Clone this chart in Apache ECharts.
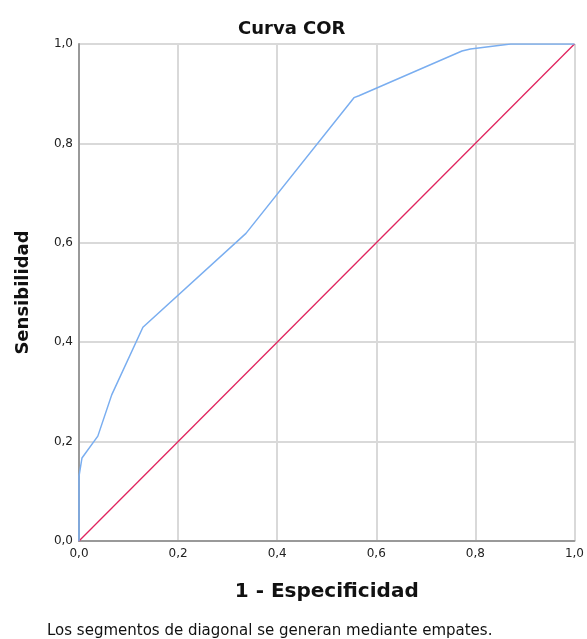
<!DOCTYPE html>
<html>
<head>
<meta charset="utf-8">
<script src="https://cdn.jsdelivr.net/npm/echarts@6/dist/echarts.min.js"></script>
<style>
  html, body { margin: 0; padding: 0; background: #fff; }
  #chart { width: 587px; height: 639px; }
</style>
</head>
<body>
<div id="chart"></div>
<script>
// ROC curve points
const fpr = [0.0, 0.0, 0.0, 0.006, 0.038, 0.066, 0.129, 0.337, 0.555, 0.565, 0.773, 0.790, 0.871, 1.0];
const tpr = [0.0, 0.11, 0.13, 0.167, 0.211, 0.294, 0.430, 0.619, 0.892, 0.896, 0.986, 0.990, 1.0, 1.0];
// reference diagonal
const diagX = [0.0, 1.0];
const diagY = [0.0, 1.0];
const ticks = ['0,0', '0,2', '0,4', '0,6', '0,8', '1,0'];

const chart = echarts.init(document.getElementById('chart'));

const fmt = v => ticks[Math.round(v / 0.2)];
const labelFont = { fontFamily: 'DejaVu Sans', fontSize: 12, color: '#222' };

const option = {
  animation: false,
  backgroundColor: '#fff',
  title: {
    text: 'Curva COR',
    left: 233,
    top: 15,
    textStyle: { fontFamily: 'DejaVu Sans', fontSize: 18, fontWeight: 'bold', color: '#111' }
  },
  graphic: [{
    type: 'text',
    left: 47,
    top: 624,
    style: {
      text: 'Los segmentos de diagonal se generan mediante empates.',
      font: '15px "DejaVu Sans"',
      fill: '#111'
    }
  }],
  grid: { left: 79, right: 11, top: 44, bottom: 98 },
  xAxis: {
    type: 'value',
    min: 0, max: 1, interval: 0.2,
    name: '1 - Especificidad',
    nameLocation: 'middle',
    nameGap: 41,
    nameTextStyle: { fontFamily: 'DejaVu Sans', fontSize: 20, fontWeight: 'bold', color: '#111' },
    axisLine: { show: true, lineStyle: { color: '#999', width: 2 } },
    axisTick: { show: false },
    axisLabel: Object.assign({ formatter: fmt, margin: 7 }, labelFont),
    splitLine: { show: true, lineStyle: { color: '#d9d9d9', width: 2 } }
  },
  yAxis: {
    type: 'value',
    min: 0, max: 1, interval: 0.2,
    name: 'Sensibilidad',
    nameLocation: 'middle',
    nameGap: 47,
    nameTextStyle: { fontFamily: 'DejaVu Sans', fontSize: 18, fontWeight: 'bold', color: '#111' },
    axisLine: { show: true, lineStyle: { color: '#999', width: 2 } },
    axisTick: { show: false },
    axisLabel: Object.assign({ formatter: fmt, margin: 6 }, labelFont),
    splitLine: { show: true, lineStyle: { color: '#d9d9d9', width: 2 } }
  },
  series: [
    {
      name: 'Diagonal',
      type: 'line',
      data: diagX.map((x, i) => [x, diagY[i]]),
      showSymbol: false,
      lineStyle: { color: '#e0245e', width: 1.3 },
      z: 3
    },
    {
      name: 'ROC',
      type: 'line',
      data: fpr.map((x, i) => [x, tpr[i]]),
      showSymbol: false,
      lineStyle: { color: '#7aaef0', width: 1.5 },
      z: 4
    }
  ]
};

chart.setOption(option);
</script>
</body>
</html>
